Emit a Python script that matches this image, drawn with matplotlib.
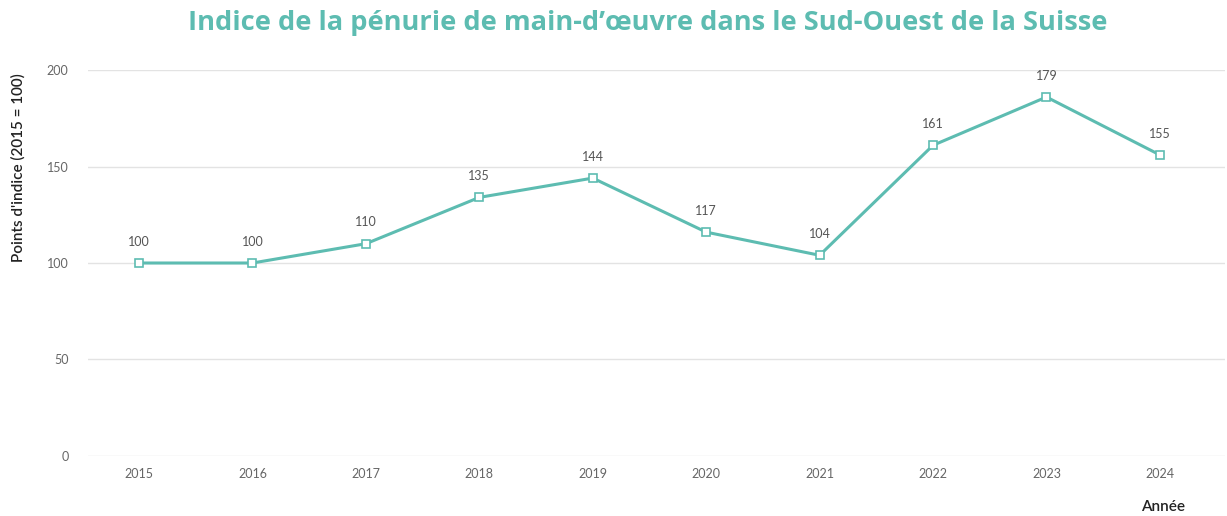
import matplotlib.pyplot as plt

years = ["2015", "2016", "2017", "2018", "2019", "2020", "2021", "2022", "2023", "2024"]
index_values = [100, 100, 110, 134, 144, 116, 104, 161, 186, 156]
value_labels = ["100", "100", "110", "135", "144", "117", "104", "161", "179", "155"]
y_ticks = [0, 50, 100, 150, 200]

teal = "#5dbcb1"
grey_text = "#666666"

plt.rcParams["font.family"] = ["Lato", "DejaVu Sans"]

fig = plt.figure(figsize=(12.27, 5.16), dpi=100)
ax = fig.add_axes([0.0717, 0.1163, 0.9263, 0.748])

x = list(range(len(years)))
ax.plot(
    x,
    index_values,
    color=teal,
    linewidth=2.2,
    marker="s",
    markersize=6,
    markerfacecolor="white",
    markeredgecolor=teal,
    markeredgewidth=1.2,
    zorder=3
)

for xi, yi, lab in zip(x, index_values, value_labels):
    ax.annotate(
        lab,
        (xi, yi),
        xytext=(0, 11),
        textcoords="offset points",
        ha="center",
        va="bottom",
        fontsize=9,
        color="#555555"
    )

ax.set_xlim(-0.45, 9.57)
ax.set_ylim(0, 200)
ax.set_yticks(y_ticks)
ax.set_xticks(x)
ax.set_xticklabels(years)
ax.tick_params(axis="both", length=0, labelsize=9, labelcolor=grey_text)
ax.tick_params(axis="y", pad=14)
ax.tick_params(axis="x", pad=9)
ax.grid(axis="y", color="#e3e3e3", linewidth=1)
ax.set_axisbelow(True)
for s in ax.spines.values():
    s.set_visible(False)

fig.text(0.015, 0.676, "Points d'indice (2015 = 100)", rotation=90,
         ha="center", va="center", fontsize=11, fontweight="semibold",
         color="#222222")
fig.text(0.948, 0.017, "Année", ha="center", va="center",
         fontsize=11, fontweight="semibold", color="#222222")
fig.text(0.528, 0.955, "Indice de la pénurie de main-d’œuvre dans le Sud-Ouest de la Suisse",
         ha="center", va="center", fontsize=19.6, fontweight="bold", color=teal,
         family=["Open Sans", "DejaVu Sans"])

fig.savefig("out.png", dpi=100)
